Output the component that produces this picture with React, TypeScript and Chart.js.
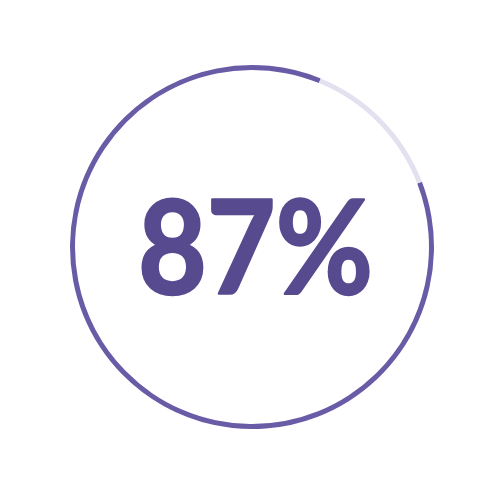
import React, { useEffect, useRef } from 'react';
import { Chart, registerables, Plugin } from 'chart.js';

Chart.register(...registerables);

const segmentLabels = ['Complete', 'Remaining'];
const segmentValues = [87, 13];
const centerLabel = '87%';

const ringColor = '#6a5ba6';
const trackColor = '#e3e0f0';
const textColor = '#574a8f';

// draws the big percentage in the middle of the ring
const centerText: Plugin<'doughnut'> = {
  id: 'centerText',
  afterDraw(chart) {
    const { ctx } = chart;
    const targetWidth = 235;
    ctx.save();
    ctx.font = 'bold 130px Lato';
    ctx.fillStyle = textColor;
    ctx.strokeStyle = textColor;
    ctx.lineWidth = 2.5;
    ctx.lineJoin = 'round';
    ctx.textAlign = 'center';
    ctx.textBaseline = 'alphabetic';
    const w = ctx.measureText(centerLabel).width;
    ctx.translate(255.5, 294);
    ctx.scale(targetWidth / w, 1);
    ctx.fillText(centerLabel, 0, 0);
    ctx.strokeText(centerLabel, 0, 0);
    ctx.restore();
  },
};

function ProgressRing() {
  const chartRef = useRef<HTMLCanvasElement>(null);

  useEffect(() => {
    if (!chartRef.current) return;
    const myChart = new Chart(chartRef.current, {
      type: 'doughnut',
      data: {
        labels: segmentLabels,
        datasets: [{
          data: segmentValues,
          backgroundColor: [ringColor, trackColor],
          borderWidth: 0,
        }],
      },
      options: {
        responsive: false,
        animation: false,
        cutout: 177,
        rotation: 69,
        layout: { padding: { left: 70, right: 66, top: 64, bottom: 71 } },
        plugins: {
          legend: { display: false },
          tooltip: { enabled: false },
        },
      },
      plugins: [centerText],
    });
    return () => {
      myChart.destroy();
    };
  }, []);

  return (
    <div style={{ position: 'fixed', left: 0, top: 0, width: 500, height: 501, background: '#fff' }}>
      <canvas ref={chartRef} width={500} height={501} style={{ width: 500, height: 501 }}></canvas>
    </div>
  );
}

export default function App() {
  return <ProgressRing />;
}
